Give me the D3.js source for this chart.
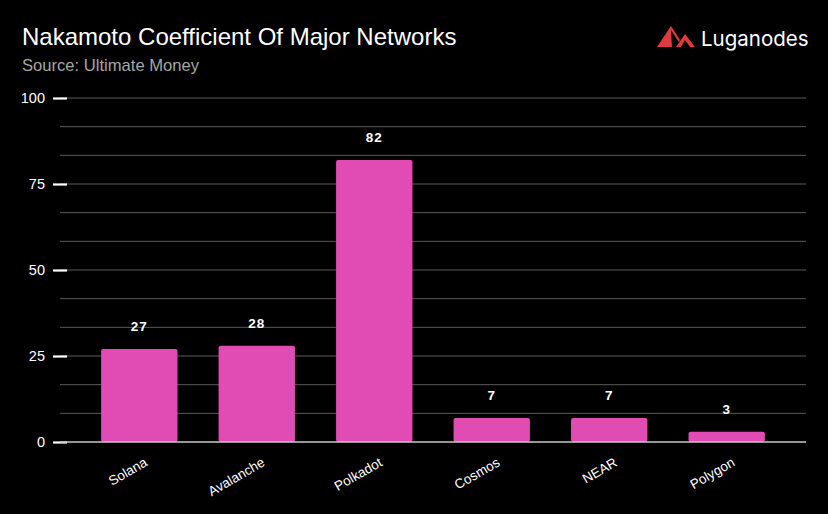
<!DOCTYPE html>
<html lang="en">
<head>
  <meta charset="UTF-8">
  <title>Nakamoto Coefficient Of Major Networks</title>
  <script src="https://d3js.org/d3.v7.min.js"></script>
  <style>
    body { margin: 0; background: #000; }
    text { font-family: "Liberation Sans", Arial, sans-serif; }
  </style>
</head>
<body>
<div id="chart"></div>
<script>
// data
const networks = ["Solana", "Avalanche", "Polkadot", "Cosmos", "NEAR", "Polygon"];
const coefficients = [27, 28, 82, 7, 7, 3];
const yTicks = [0, 25, 50, 75, 100];

const width = 828, height = 514;
const plotLeft = 60, plotRight = 806, plotTop = 98, plotBottom = 442;

const svg = d3.select("#chart").append("svg")
  .attr("width", width)
  .attr("height", height)
  .style("background", "#000");

const x = d3.scaleBand()
  .domain(networks)
  .range([plotLeft, plotRight])
  .paddingInner(0.35)
  .paddingOuter(0.35);

const y = d3.scaleLinear()
  .domain([0, 100])
  .range([plotBottom, plotTop]);

// gridlines, every 1/3 of a major step
const grid = d3.range(0, 101, 25 / 3).filter(v => v > 0);
svg.append("g").selectAll("line")
  .data(grid)
  .enter().append("line")
  .attr("x1", plotLeft).attr("x2", plotRight)
  .attr("y1", d => y(d)).attr("y2", d => y(d))
  .attr("stroke", "#5a5a5a")
  .attr("stroke-width", 1);

// y axis: white tick marks + labels
const yAxis = svg.append("g")
  .attr("transform", `translate(${plotLeft + 7},0)`)
  .call(d3.axisLeft(y).tickValues(yTicks).tickSize(14).tickPadding(8));
yAxis.select(".domain").remove();
yAxis.selectAll(".tick line").attr("stroke", "#fff").attr("stroke-width", 2.2);
yAxis.selectAll(".tick text")
  .attr("fill", "#fff")
  .style("font-size", "14.5px")
  .style("font-family", "Liberation Sans, Arial, sans-serif");

// bars
svg.append("g").selectAll("rect")
  .data(networks)
  .enter().append("rect")
  .attr("x", d => x(d))
  .attr("y", (d, i) => y(coefficients[i]))
  .attr("width", x.bandwidth())
  .attr("height", (d, i) => y(0) - y(coefficients[i]))
  .attr("rx", 2)
  .attr("fill", "#e14bb4");

// baseline
svg.append("line")
  .attr("x1", plotLeft).attr("x2", plotRight)
  .attr("y1", y(0)).attr("y2", y(0))
  .attr("stroke", "#c8c8c8")
  .attr("stroke-width", 1.5);

// value labels
svg.append("g").selectAll("text")
  .data(networks)
  .enter().append("text")
  .attr("x", d => x(d) + x.bandwidth() / 2)
  .attr("y", (d, i) => y(coefficients[i]) - 18)
  .attr("text-anchor", "middle")
  .attr("fill", "#fff")
  .style("font-size", "13.5px")
  .style("font-weight", "bold")
  .style("letter-spacing", "1px")
  .text((d, i) => coefficients[i]);

// x labels, rotated
svg.append("g").selectAll("text")
  .data(networks)
  .enter().append("text")
  .attr("transform", d => `translate(${x(d) + x.bandwidth() / 2 + 9},${plotBottom + 23}) rotate(-30)`)
  .attr("text-anchor", "end")
  .attr("fill", "#fff")
  .style("font-size", "13.5px")
  .text(d => d);

// title
svg.append("text")
  .attr("x", 22).attr("y", 45)
  .attr("fill", "#fff")
  .style("font-size", "24px")
  .text("Nakamoto Coefficient Of Major Networks");

svg.append("text")
  .attr("x", 22).attr("y", 71)
  .attr("fill", "#a6a6a6")
  .style("font-size", "16.6px")
  .text("Source: Ultimate Money");

// logo
const logo = svg.append("g");
logo.append("path")
  .attr("d", "M657,47 L671,26 L680,40 L676,47 Z")
  .attr("fill", "#e0393e");
logo.append("path")
  .attr("d", "M672,47 L671,30 L682,47 Z")
  .attr("fill", "#000");
logo.append("path")
  .attr("d", "M676,47 L685,34 L695,47 L690,47 L685,40 L681,47 Z")
  .attr("fill", "#e0393e");
logo.append("text")
  .attr("x", 701).attr("y", 46)
  .attr("fill", "#fff")
  .style("font-family", "Inter, sans-serif")
  .style("font-size", "20.5px")
  .text("Luganodes");
</script>
</body>
</html>
